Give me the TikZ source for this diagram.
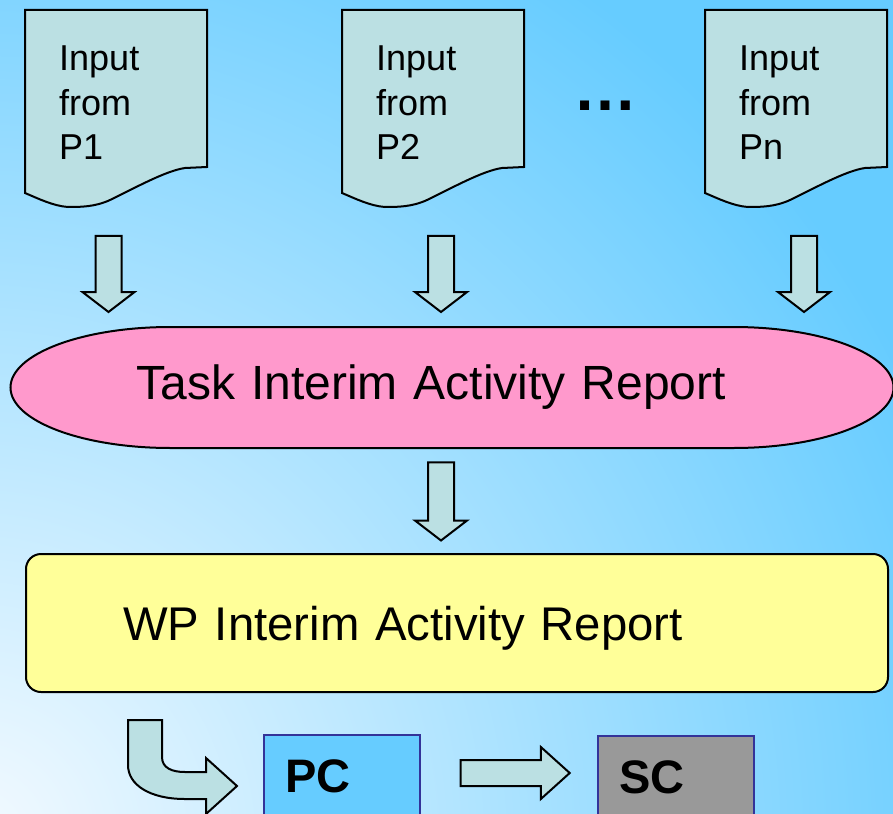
\documentclass[tikz,border=0pt]{standalone}
\usepackage{fontspec}
\setmainfont{Liberation Sans}
\usetikzlibrary{shapes.arrows,backgrounds}
\definecolor{bgblue}{RGB}{102,204,255}
\definecolor{bglight}{RGB}{244,250,255}
\definecolor{docfill}{RGB}{187,224,227}
\definecolor{taskpink}{RGB}{255,153,204}
\definecolor{wpyellow}{RGB}{255,255,153}
\definecolor{pcblue}{RGB}{102,204,255}
\definecolor{scgray}{RGB}{153,153,153}
\definecolor{boxedge}{RGB}{51,51,153}

\tikzset{
  docnode/.style={anchor=north west, minimum width=182, inner xsep=34, inner ysep=36,
    text width=114, align=left, font=\fontsize{36}{44.5}\selectfont},
  blockarrow/.style={single arrow, draw, fill=docfill, line width=2, inner xsep=0, inner ysep=12,
    single arrow head extend=13, single arrow head indent=0},
  downarrow/.style={blockarrow, minimum height=76, single arrow tip angle=105, rotate=-90},
  procbox/.style={draw=boxedge, line width=2, anchor=north west, minimum width=156,
    inner xsep=21, inner ysep=25, text width=114, align=left,
    font=\fontsize{47}{56}\selectfont\bfseries}
}

\begin{document}
\begin{tikzpicture}[x=1pt,y=-1pt]
        \useasboundingbox (0,0) rectangle (893,813);

        \node[docnode] (doc1) at (25,10) {Input\\from\\P1};
        \node[docnode] (doc2) at (342,10) {Input\\from\\P2};
        \node[docnode] (docn) at (705,10) {Input\\from\\Pn};
        \node[anchor=base west, font=\fontsize{64}{64}\selectfont\bfseries] (dots) at (570,111) {…};

        \node[downarrow] (in1) at (108.5,269) {};
        \node[downarrow] (in2) at (441,269) {};
        \node[downarrow] (inn) at (804,269) {};

        \node[minimum width=883, minimum height=121, inner xsep=126, text width=631, align=left,
              font=\fontsize{48}{58}\selectfont] (task) at (452,387.5) {Task Interim Activity Report};

        \node[downarrow, minimum height=78] (taskwp) at (441,496.5) {};

        \node[draw, line width=2, fill=wpyellow, rounded corners=15, anchor=north west,
              minimum width=862, minimum height=138, inner xsep=97, text width=668, text depth=0,
              align=left, font=\fontsize{47.3}{58}\selectfont] (wp) at (25,553) {WP Interim Activity Report};

        \node[procbox, fill=pcblue] (pc) at (263,734) {PC};
        \node[procbox, fill=scgray] (sc) at (597,735) {SC};
        \node[blockarrow, minimum height=109, single arrow tip angle=84] (pcsc) at (508,773) {};

        % bent arrow wp -> pc
        \draw[line width=2, fill=docfill] (128,720) -- (162,720) -- (162,757)
            .. controls (162,768) and (172,772) .. (185,772) -- (206,772) -- (206,758)
            -- (237,786) -- (206,814) -- (206,799) -- (185,799)
            .. controls (150,799) and (128,785) .. (128,765) -- cycle;

        \begin{scope}[on background layer]
            \clip (0,0) rectangle (893,813);
            \fill[bgblue] (0,0) rectangle (893,813);
            \shade[inner color=bglight, outer color=bgblue] (-30,843) circle (1050);
            \foreach \d in {doc1,doc2,docn}
                \draw[line width=2, fill=docfill, shift={(\d.north west)}] (0,0) -- (182,0) -- (182,157)
                    -- (160,158) .. controls (140,161) and (110,178) .. (85,190)
                    .. controls (70,197) and (55,197) .. (43,197)
                    .. controls (28,196) and (12,188) .. (0,183) -- cycle;
            \draw[line width=2, fill=taskpink, shift={(task.center)}] (-281.5,-60.5) -- (281.5,-60.5)
                arc[start angle=-90, end angle=90, x radius=160, y radius=60.5]
                -- (-281.5,60.5)
                arc[start angle=90, end angle=270, x radius=160, y radius=60.5] -- cycle;
        \end{scope}
\end{tikzpicture}
\end{document}
